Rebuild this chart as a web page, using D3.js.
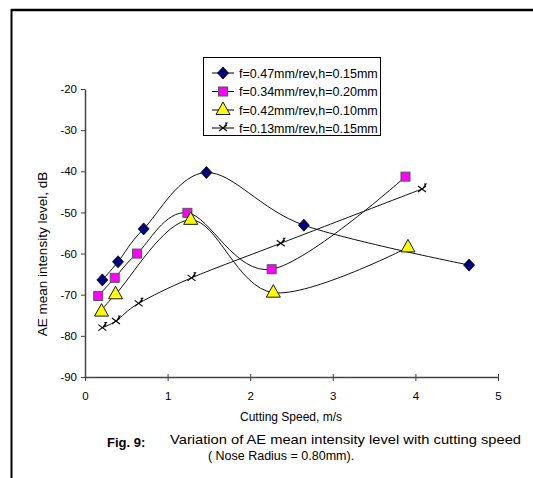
<!DOCTYPE html>
<html>
<head>
<meta charset="utf-8">
<script src="https://cdn.jsdelivr.net/npm/d3@7"></script>
<style>
  html, body { margin: 0; padding: 0; background: #fff; }
  svg { display: block; font-family: "Liberation Sans", Arial, sans-serif; }
</style>
</head>
<body>
<svg id="chart" width="533" height="478"></svg>
<script>
// Cutting speed (m/s) and AE mean intensity level (dB) for each feed / flank-wear setting
const seriesNames = [
  "f=0.47mm/rev,h=0.15mm",
  "f=0.34mm/rev,h=0.20mm",
  "f=0.42mm/rev,h=0.10mm",
  "f=0.13mm/rev,h=0.15mm"
];
const speedA = [0.21, 0.40, 0.71, 1.47, 2.65, 4.65];
const levelA = [-66.4, -62.0, -54.0, -40.3, -53.1, -62.8];
const speedB = [0.16, 0.36, 0.63, 1.24, 2.26, 3.88];
const levelB = [-70.3, -65.9, -60.0, -50.1, -63.8, -41.3];
const speedC = [0.20, 0.37, 1.28, 2.28, 3.91];
const levelC = [-74.1, -69.9, -51.8, -69.5, -58.5];
const speedD = [0.21, 0.375, 0.65, 1.29, 2.37, 4.08];
const levelD = [-78.0, -76.4, -72.1, -65.9, -57.5, -44.3];
const markerKinds = ["diamond", "square", "triangle", "cross"];

const xTicks = [0, 1, 2, 3, 4, 5];
const yTicks = [-90, -80, -70, -60, -50, -40, -30, -20];

const svg = d3.select("#chart");

// page frame
svg.append("line").attr("x1", 11).attr("x2", 533).attr("y1", 10).attr("y2", 10)
  .attr("stroke", "#000").attr("stroke-width", 2.5);
svg.append("line").attr("x1", 11.5).attr("x2", 11.5).attr("y1", 9).attr("y2", 478)
  .attr("stroke", "#000").attr("stroke-width", 2);

const x = d3.scaleLinear().domain([0, 5]).range([85, 498]);
const y = d3.scaleLinear().domain([-90, -20]).range([377, 89]);

// axes (plain hyphen for negative numbers)
const fmt = d => String(d);
const gx = svg.append("g").attr("transform", `translate(0,${y(-90)})`)
  .call(d3.axisBottom(x).tickValues(xTicks).tickFormat(fmt).tickSizeInner(4).tickSizeOuter(0).tickPadding(11));
const gy = svg.append("g").attr("transform", `translate(${x(0)},0)`)
  .call(d3.axisLeft(y).tickValues(yTicks).tickFormat(fmt).tickSizeInner(4).tickSizeOuter(0).tickPadding(4));
[gx, gy].forEach(g => {
  g.select(".domain").attr("stroke", "#444").attr("stroke-width", 1.5);
  g.selectAll(".tick line").attr("stroke", "#444").attr("stroke-width", 1);
  g.selectAll(".tick text").attr("font-size", 11.5).attr("fill", "#000")
    .attr("font-family", "'Liberation Sans', Arial, sans-serif");
});
gx.selectAll(".tick line").attr("y1", -3);

// axis titles
svg.append("text").attr("x", 291).attr("y", 421).attr("text-anchor", "middle")
  .attr("font-size", 12).text("Cutting Speed, m/s");
svg.append("text").attr("transform", "translate(47,254) rotate(-90)")
  .attr("text-anchor", "middle").attr("font-size", 13.5).text("AE mean intensity level, dB");

// figure caption
svg.append("text").attr("x", 107).attr("y", 447).attr("font-size", 13).attr("font-weight", "bold")
  .text("Fig. 9:");
svg.append("text").attr("x", 170).attr("y", 444).attr("font-size", 13.5)
  .attr("textLength", 351).attr("lengthAdjust", "spacingAndGlyphs")
  .text("Variation of AE mean intensity level with cutting speed");
svg.append("text").attr("x", 281).attr("y", 460).attr("text-anchor", "middle").attr("font-size", 12.5)
  .text("( Nose Radius = 0.80mm).");

// marker drawing
function drawMarker(g, kind, cx, cy) {
  if (kind === "diamond") {
    g.append("path").attr("d", `M${cx},${cy - 6}L${cx + 5.5},${cy}L${cx},${cy + 6}L${cx - 5.5},${cy}Z`)
      .attr("fill", "#000080").attr("stroke", "#000").attr("stroke-width", 0.8);
  } else if (kind === "square") {
    g.append("rect").attr("x", cx - 4.5).attr("y", cy - 4.5).attr("width", 9).attr("height", 9)
      .attr("fill", "#ff00ff").attr("stroke", "#555").attr("stroke-width", 1);
  } else if (kind === "triangle") {
    g.append("path").attr("d", `M${cx},${cy - 8}L${cx + 7},${cy + 4.5}L${cx - 7},${cy + 4.5}Z`)
      .attr("fill", "#ffff00").attr("stroke", "#000").attr("stroke-width", 0.9);
  } else {
    g.append("path").attr("d", `M${cx - 4},${cy - 3}L${cx + 4},${cy + 3}M${cx - 4},${cy + 3}L${cx + 4},${cy - 3}M${cx + 2},${cy - 5}L${cx + 4},${cy - 5}L${cx + 1},${cy - 1}`)
      .attr("fill", "none").attr("stroke", "#000").attr("stroke-width", 1.1);
  }
}

const series = [
  { xs: speedA, ys: levelA },
  { xs: speedB, ys: levelB },
  { xs: speedC, ys: levelC },
  { xs: speedD, ys: levelD }
];

const line = d3.line().curve(d3.curveCardinal.tension(0));
const plot = svg.append("g");
series.forEach((s, i) => {
  const pts = s.xs.map((v, j) => [x(v), y(s.ys[j])]);
  plot.append("path").attr("d", line(pts)).attr("fill", "none")
    .attr("stroke", "#111").attr("stroke-width", 1);
});
series.forEach((s, i) => {
  const g = plot.append("g");
  s.xs.forEach((v, j) => drawMarker(g, markerKinds[i], x(v), y(s.ys[j])));
});

// legend
const leg = svg.append("g");
leg.append("rect").attr("x", 203.5).attr("y", 57.5).attr("width", 177).attr("height", 78)
  .attr("fill", "#fff").attr("stroke", "#000").attr("stroke-width", 1);
const rowY = [73, 91.5, 110, 128];
seriesNames.forEach((name, i) => {
  const ry = rowY[i];
  leg.append("line").attr("x1", 212).attr("x2", 234).attr("y1", ry).attr("y2", ry)
    .attr("stroke", "#000").attr("stroke-width", 1);
  drawMarker(leg, markerKinds[i], 223, ry);
  leg.append("text").attr("x", 239).attr("y", ry + 4.5).attr("font-size", 12.5).text(name);
});
</script>
</body>
</html>
